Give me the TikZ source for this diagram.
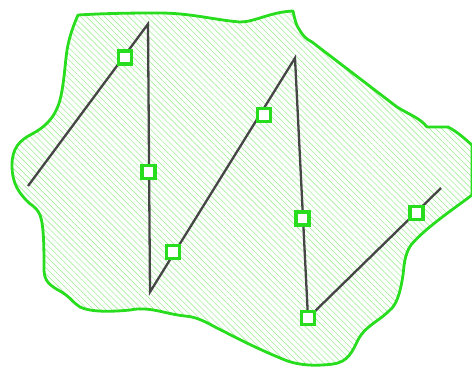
\documentclass[tikz,border=0pt]{standalone}
\usetikzlibrary{patterns.meta}
\definecolor{blobgreen}{RGB}{40,220,30}
\definecolor{hatchgreen}{RGB}{165,238,155}
\definecolor{linegray}{RGB}{70,70,70}
\tikzset{
  blob/.style={draw=blobgreen, line width=2.8pt, line join=round,
    pattern={Lines[angle=-45,distance=4.3pt,line width=0.6pt]}, pattern color=hatchgreen},
  zig/.style={draw=linegray, line width=2.3pt, line join=miter},
  marker/.style={draw=blobgreen, fill=white, line width=3.2pt, minimum size=13pt, inner sep=0pt, outer sep=0pt}
}
\begin{document}
\begin{tikzpicture}[x=1pt,y=-1pt]
\useasboundingbox (0,0) rectangle (472,368);
\path[blob] (78,15) .. controls (110,13) and (140,13) .. (160,13)
  .. controls (190,13) and (215,20) .. (240,22)
  .. controls (255,22) and (270,12) .. (293,11)
  .. controls (295,20) and (296,25) .. (299,29)
  .. controls (303,36) and (306,39) .. (312,42)
  -- (397,107)
  .. controls (410,115) and (420,118) .. (427,127)
  -- (448,127)
  .. controls (458,132) and (466,140) .. (472,145)
  -- (472,195)
  .. controls (455,208) and (425,228) .. (411,245)
  .. controls (404,255) and (404,268) .. (403,275)
  .. controls (400,295) and (396,305) .. (390,310)
  .. controls (378,322) and (365,326) .. (358,340)
  .. controls (352,352) and (348,362) .. (333,364)
  .. controls (318,366) and (300,366) .. (285,360)
  .. controls (265,352) and (240,340) .. (225,332)
  .. controls (210,325) and (200,317) .. (185,316)
  .. controls (165,314) and (150,306) .. (130,310)
  .. controls (110,312) and (90,312) .. (80,307)
  .. controls (73,303) and (70,296) .. (58,290)
  .. controls (46,283) and (44,278) .. (44,268)
  .. controls (44,250) and (44,225) .. (40,215)
  .. controls (36,206) and (30,205) .. (26,200)
  .. controls (20,193) and (12,185) .. (12,165)
  .. controls (12,148) and (20,140) .. (32,134)
  .. controls (45,127) and (55,118) .. (60,100)
  .. controls (65,80) and (65,58) .. (68,45)
  .. controls (70,35) and (74,24) .. (78,15) -- cycle;
\coordinate (p0) at (28,186);
\coordinate (p1) at (148,24);
\coordinate (p2) at (150,292);
\coordinate (p3) at (295,58);
\coordinate (p4) at (308,318);
\coordinate (p5) at (441,188);
\draw[zig] (p0) -- (p1) -- (p2) -- (p3) -- (p4) -- (p5);
\node[marker] (m1) at (125,57.5) {};
\node[marker] (m2) at (148.5,172) {};
\node[marker] (m3) at (173,252) {};
\node[marker] (m4) at (264,115) {};
\node[marker] (m5) at (302.5,218.5) {};
\node[marker] (m6) at (416.5,213) {};
\node[marker] (m7) at (308,318) {};
\end{tikzpicture}
\end{document}
